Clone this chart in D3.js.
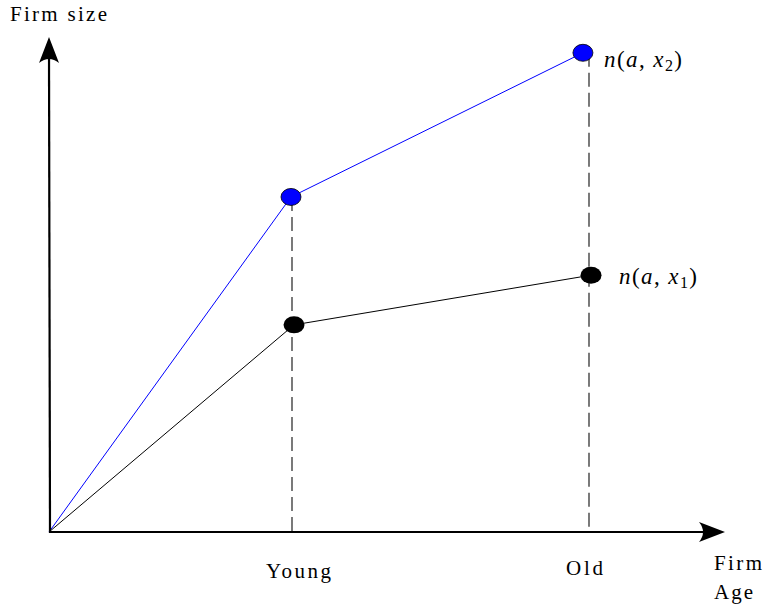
<!DOCTYPE html>
<html><head><meta charset="utf-8">
<script src="https://cdn.jsdelivr.net/npm/d3@7"></script>
<style>body{margin:0;background:#fff}svg{display:block}</style>
</head><body><div id="chart"></div>
<script>
// Data (age on 0-100 scale, firm size on 0-100 scale)
const ageLabels = ["Young", "Old"];
const ageTicks = [36, 80];
const seriesNames = ["n(a,x2)", "n(a,x1)"];
const blueAge = [0, 35.85, 79.1];
const blueSize = [0, 68.1, 97.4];
const blackAge = [0, 36.3, 80.3];
const blackSize = [0, 42.1, 52.2];

const W = 767, H = 609;
const svg = d3.select("#chart").append("svg").attr("width", W).attr("height", H);
const x = d3.scaleLinear().domain([0, 100]).range([49, 724]);
const y = d3.scaleLinear().domain([0, 100]).range([532, 40]);
const font = "'Liberation Serif', 'DejaVu Serif', serif";

// dashed verticals
ageTicks.forEach((t, i) => {
  const top = i === 0 ? blueSize[1] : blueSize[2];
  svg.append("line").attr("x1", x(t)).attr("x2", x(t))
    .attr("y1", y(top)).attr("y2", y(0))
    .attr("stroke", "#333").attr("stroke-width", 1.3)
    .attr("stroke-dasharray", "14,6");
});

const line = d3.line().x(d => x(d[0])).y(d => y(d[1]));
const blue = blueAge.map((a, i) => [a, blueSize[i]]);
const black = blackAge.map((a, i) => [a, blackSize[i]]);
svg.append("path").attr("d", line(blue)).attr("fill", "none").attr("stroke", "#0000ff").attr("stroke-width", 1);
svg.append("path").attr("d", line(black)).attr("fill", "none").attr("stroke", "#000").attr("stroke-width", 1);

// axes
const axisG = svg.append("g");
axisG.append("line").attr("x1", x(0)).attr("y1", y(0)).attr("x2", 711).attr("y2", y(0))
  .attr("stroke", "#000").attr("stroke-width", 2.2);
axisG.append("line").attr("x1", x(0) + 1).attr("y1", y(0) + 1).attr("x2", 49).attr("y2", 52)
  .attr("stroke", "#000").attr("stroke-width", 2.2);
// arrow heads (stealth shape)
function arrow(tx, ty, angle) {
  const p = d3.path();
  p.moveTo(0, 0); p.lineTo(-26, -10); p.quadraticCurveTo(-18, 0, -26, 10); p.closePath();
  svg.append("path").attr("d", p.toString())
    .attr("transform", `translate(${tx},${ty}) rotate(${angle})`).attr("fill", "#000");
}
arrow(725, y(0), 0);
arrow(49, 37, -90);

// points
svg.selectAll(".pb").data(blue.slice(1)).enter().append("ellipse")
  .attr("cx", d => x(d[0])).attr("cy", d => y(d[1])).attr("rx", 10).attr("ry", 8.5)
  .attr("fill", "#0000ff").attr("stroke", "#000").attr("stroke-width", 0.8);
svg.selectAll(".pk").data(black.slice(1)).enter().append("ellipse")
  .attr("cx", d => x(d[0])).attr("cy", d => y(d[1])).attr("rx", 10.5).attr("ry", 8.5)
  .attr("fill", "#000");

// text
function txt(s, tx, ty, size, len) {
  return svg.append("text").attr("x", tx).attr("y", ty).attr("font-family", font)
    .attr("font-size", size).attr("fill", "#000")
    .attr("textLength", len).attr("lengthAdjust", "spacing").text(s);
}
txt("Firm size", 10, 21, 21, 97);
txt(ageLabels[0], 266, 578, 21, 65);
txt(ageLabels[1], 566, 575, 21, 37);
txt("Firm", 714, 570, 21, 48);
txt("Age", 714, 599, 21, 39);

function mathLabel(sub, tx, ty, len) {
  const t = svg.append("text").attr("x", tx).attr("y", ty).attr("font-family", font)
    .attr("font-size", 23).attr("fill", "#000")
    .attr("textLength", len).attr("lengthAdjust", "spacing");
  t.append("tspan").attr("font-style", "italic").text("n");
  t.append("tspan").text("(");
  t.append("tspan").attr("font-style", "italic").text("a");
  t.append("tspan").text(", ");
  t.append("tspan").attr("font-style", "italic").text("x");
  t.append("tspan").attr("font-size", 16).attr("dy", 4).text(sub);
  t.append("tspan").attr("dy", -4).text(")");
}
mathLabel("2", 604, 67, 78);
mathLabel("1", 619, 284, 78);
</script></body></html>
